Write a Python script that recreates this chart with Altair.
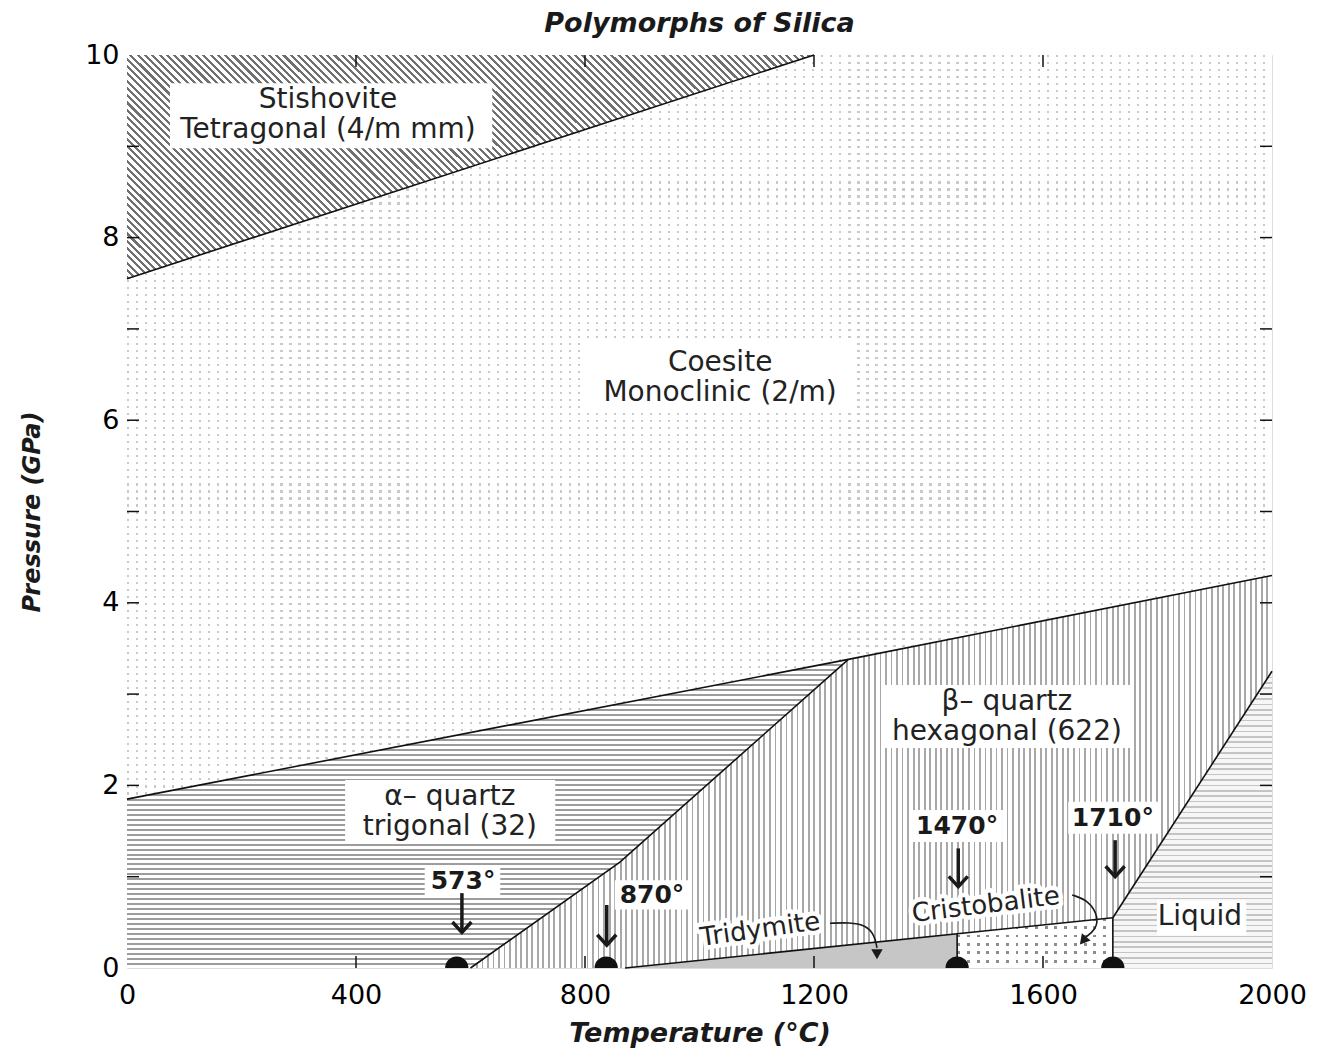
import altair as alt
import pandas as pd

W, H = 1145, 913
FONT = "DejaVu Sans"

# ---------------- data ----------------
# phase boundaries (T in degC, P in GPa)
stish_T = [0, 1200]
stish_P = [7.55, 10.0]
coes_T = [0, 1260, 2000]
coes_P = [1.85, 3.38, 4.30]
ab_T = [600, 861, 1260]
ab_P = [0.0, 1.16, 3.38]
trid_T = [870, 1722]
trid_P = [0.0, 0.55]
liq_T = [1722, 2000]
liq_P = [0.55, 3.25]
vert_T = [1450, 1722]
vert_P = [0.374, 0.55]

# phase regions: T, lower P, upper P
coesite_reg = dict(T=[0, 2000], P=[0, 0], P2=[10, 10])
stish_reg = dict(T=[0, 1200], P=[7.55, 10.0], P2=[10.0, 10.0])
beta_reg = dict(T=[600, 1260, 2000], P=[0, 0, 0], P2=[2.579, 3.38, 4.30])
alpha_reg = dict(T=[0, 600, 861, 1260], P=[0, 0, 1.16, 3.38], P2=[1.85, 2.579, 2.895, 3.38])
liquid_reg = dict(T=[1722, 2000], P=[0, 0], P2=[0.55, 3.25])
trid_reg = dict(T=[870, 1450], P=[0, 0], P2=[0.0, 0.374])
crist_reg = dict(T=[1450, 1722], P=[0, 0], P2=[0.374, 0.55])

# transition points on the T axis
dot_T = [576, 837, 1450, 1722]

# region labels (two-line blocks, position of the first line)
lab_text = [["Stishovite", "Tetragonal (4/m mm)"],
            ["Coesite", "Monoclinic (2/m)"],
            ["\u03b1\u2013 quartz", "trigonal (32)"],
            ["\u03b2\u2013 quartz", "hexagonal (622)"],
            ["Liquid"]]
lab_T = [351, 1036, 564, 1537, 1874]
lab_P = [9.51, 6.63, 1.87, 2.91, 0.56]

# white label boxes
box_T1 = [75, 800, 381, 1319, 1799, 520, 852, 1368, 1644]
box_T2 = [638, 1272, 748, 1755, 1955, 652, 983, 1530, 1804]
box_P1 = [8.98, 6.09, 1.37, 2.41, 0.36, 0.79, 0.64, 1.38, 1.47]
box_P2 = [9.69, 6.85, 2.06, 3.10, 0.74, 1.12, 0.96, 1.73, 1.82]

# temperature labels and straight arrows
temp_text = ["573\u00b0", "870\u00b0", "1470\u00b0", "1710\u00b0"]
temp_T = [587, 917, 1450, 1722]
temp_P = [0.95, 0.80, 1.56, 1.64]
arr_T = [585, 838, 1452, 1726]
arr_top = [0.82, 0.69, 1.31, 1.40]
arr_tip = [0.39, 0.25, 0.89, 1.00]

# rotated labels
rot_text = ["Tridymite", "Cristobalite"]
rot_T = [1106, 1500]
rot_P = [0.42, 0.69]
rot_angle = [352, 353]

# curved arrows
trid_arrow_T = [1228, 1262, 1290, 1306, 1310]
trid_arrow_P = [0.49, 0.50, 0.47, 0.36, 0.22]
crist_arrow_T = [1651, 1680, 1697, 1692, 1675]
crist_arrow_P = [0.80, 0.74, 0.56, 0.42, 0.34]
head_T = [1310, 1670]
head_P = [0.15, 0.30]
head_angle = [0, 40]

# axis ticks
x_labels = [0, 400, 800, 1200, 1600, 2000]
y_labels = [0, 2, 4, 6, 8, 10]
x_ticks = [400, 800, 1200, 1600]
y_ticks = [1, 2, 3, 4, 5, 6, 7, 8, 9]

# ---------------- styles ----------------
CLEAR = "rgba(255,255,255,0)"


def stripes(n, frac, dark, light, x1, y1, x2, y2):
    stops = []
    for i in range(n):
        a = i / n
        b = (i + frac) / n
        c = (i + 1) / n
        stops += [alt.GradientStop(offset=a, color=dark),
                  alt.GradientStop(offset=b, color=dark),
                  alt.GradientStop(offset=b, color=light),
                  alt.GradientStop(offset=c, color=light)]
    return alt.LinearGradient(gradient="linear", stops=stops, x1=x1, y1=y1, x2=x2, y2=y2)


xs = alt.Scale(domain=[0, 2000], nice=False, zero=False)
ys = alt.Scale(domain=[0, 10], nice=False, zero=False)
xaxis = alt.Axis(values=x_labels, format="d", tickSize=0, domain=False, grid=False,
                 labelFont=FONT, labelFontSize=27, labelColor="black", labelPadding=14,
                 labelFlush=False, title="Temperature (\u00b0C)", titleFont=FONT,
                 titleFontSize=27, titleFontWeight="bold", titleFontStyle="italic",
                 titleColor="#1a1a1a", titlePadding=12)
yaxis = alt.Axis(values=y_labels, format="d", tickSize=0, domain=False, grid=False,
                 labelFont=FONT, labelFontSize=27, labelColor="black", labelPadding=8,
                 labelFlush=False, title="Pressure (GPa)", titleFont=FONT,
                 titleFontSize=24, titleFontWeight="bold", titleFontStyle="italic",
                 titleColor="#1a1a1a", titlePadding=40)


def X(f="T"):
    return alt.X(f"{f}:Q", scale=xs, axis=xaxis)


def Y(f="P"):
    return alt.Y(f"{f}:Q", scale=ys, axis=yaxis)


def region(d, fill):
    df = pd.DataFrame(d)
    return alt.Chart(df).mark_area(fill=fill, opacity=1).encode(x=X(), y=Y(), y2="P2")


def dotted(d, nx, fx, ny, fy, color):
    # vertical gray/white stripes masked by horizontal clear/white stripes -> dots
    return [region(d, stripes(nx, fx, color, "#ffffff", 0, 0, 1, 0)),
            region(d, stripes(ny, fy, CLEAR, "#ffffff", 0, 0, 0, 1))]


def bline(T, P, width=1.6):
    df = pd.DataFrame({"T": T, "P": P})
    return alt.Chart(df).mark_line(color="#111", strokeWidth=width).encode(x=X(), y=Y())


layers = []
# coesite: fine dots
layers += dotted(coesite_reg, 127, 0.25, 130, 0.3, "#c9c9c9")
# stishovite diagonal hatching
k = 224 / 687
s = (1 + k) / (1 + k * k)
layers.append(region(stish_reg, stripes(125, 0.42, "#707070", "#ffffff", 0, 1, s, 1 - s * k)))
# beta quartz vertical lines
layers.append(region(beta_reg, stripes(145, 0.33, "#a8a8a8", "#ffffff", 0, 0, 1, 0)))
# alpha quartz horizontal lines
layers.append(region(alpha_reg, stripes(62, 0.4, "#9c9c9c", "#ffffff", 0, 0, 0, 1)))
# liquid wavy texture
layers.append(region(liquid_reg, stripes(55, 0.3, "#c4c4c4", "#f6f6f6", 0, 0, 0, 1)))
# tridymite
layers.append(region(trid_reg, "#c6c6c6"))
# cristobalite: coarse dots
layers += dotted(crist_reg, 16, 0.3, 6, 0.35, "#8c8c8c")

# boundaries
layers.append(bline(stish_T, stish_P))
layers.append(bline(coes_T, coes_P))
layers.append(bline(ab_T, ab_P))
layers.append(bline(trid_T, trid_P))
layers.append(bline(liq_T, liq_P))
layers.append(alt.Chart(pd.DataFrame({"T": vert_T, "P2": vert_P, "P": [0, 0]})).mark_rule(
    color="#111", strokeWidth=1.6).encode(x=X(), y=Y(), y2="P2"))

# white boxes
layers.append(alt.Chart(pd.DataFrame({"T": box_T1, "T2": box_T2, "P": box_P1, "P2": box_P2}))
              .mark_rect(fill="white").encode(x=X(), x2="T2", y=Y(), y2="P2"))

# region labels
layers.append(alt.Chart(pd.DataFrame({"T": lab_T, "P": lab_P, "t": lab_text})).mark_text(
    font=FONT, fontSize=28, lineHeight=30, color="#222", align="center",
    baseline="middle").encode(x=X(), y=Y(), text="t"))

# temperature labels
layers.append(alt.Chart(pd.DataFrame({"T": temp_T, "P": temp_P, "t": temp_text})).mark_text(
    font=FONT, fontSize=25, fontWeight="bold", color="#1a1a1a", align="center",
    baseline="middle").encode(x=X(), y=Y(), text="t:N"))

# straight arrows
arr_df = pd.DataFrame({"T": arr_T, "P": arr_top, "P2": arr_tip})
layers.append(alt.Chart(arr_df).mark_rule(color="#1a1a1a", strokeWidth=3.5).encode(
    x=X(), y=Y(), y2="P2"))
layers.append(alt.Chart(pd.DataFrame({"T": arr_T, "P": arr_tip})).mark_point(
    shape="M -1 -1.1 L 0 0 L 1 -1.1", filled=False, size=360, strokeWidth=3.5,
    color="#1a1a1a", opacity=1).encode(x=X(), y=Y()))

# rotated labels with white halo
rot_df = pd.DataFrame({"T": rot_T, "P": rot_P, "t": rot_text, "a": rot_angle})
layers.append(alt.Chart(rot_df).mark_text(
    font=FONT, fontSize=26, color="white", stroke="white", strokeWidth=9,
    strokeJoin="round", align="center", baseline="middle").encode(
    x=X(), y=Y(), text="t:N", angle=alt.Angle("a:Q", scale=None)))
layers.append(alt.Chart(rot_df).mark_text(
    font=FONT, fontSize=26, color="#222", align="center", baseline="middle").encode(
    x=X(), y=Y(), text="t:N", angle=alt.Angle("a:Q", scale=None)))

# curved arrows
for cT, cP in [(trid_arrow_T, trid_arrow_P), (crist_arrow_T, crist_arrow_P)]:
    cdf = pd.DataFrame({"T": cT, "P": cP, "i": list(range(len(cT)))})
    layers.append(alt.Chart(cdf).mark_line(color="#1a1a1a", strokeWidth=1.6,
                                           interpolate="basis").encode(
        x=X(), y=Y(), order="i:Q"))
layers.append(alt.Chart(pd.DataFrame({"T": head_T, "P": head_P, "a": head_angle})).mark_point(
    shape="triangle-down", filled=True, size=130, color="#1a1a1a", opacity=1).encode(
    x=X(), y=Y(), angle=alt.Angle("a:Q", scale=None)))

# transition dots
layers.append(alt.Chart(pd.DataFrame({"T": dot_T, "P": [0] * len(dot_T)})).mark_circle(
    size=540, color="#111", opacity=1, clip=True).encode(x=X(), y=Y()))

# inward ticks
xt = pd.DataFrame({"T": x_ticks})
yt = pd.DataFrame({"P": y_ticks})
layers.append(alt.Chart(xt).mark_rule(color="#111", strokeWidth=1.5).encode(
    x=X(), y=alt.value(H), y2=alt.value(H - 12)))
layers.append(alt.Chart(xt).mark_rule(color="#111", strokeWidth=1.5).encode(
    x=X(), y=alt.value(0), y2=alt.value(12)))
layers.append(alt.Chart(yt).mark_rule(color="#111", strokeWidth=1.5).encode(
    y=Y(), x=alt.value(0), x2=alt.value(12)))
layers.append(alt.Chart(yt).mark_rule(color="#111", strokeWidth=1.5).encode(
    y=Y(), x=alt.value(W - 12), x2=alt.value(W)))

chart = alt.layer(*layers).properties(
    width=W, height=H,
    title=alt.TitleParams("Polymorphs of Silica", font=FONT, fontSize=27, fontWeight="bold",
                          fontStyle="italic", color="#1a1a1a", anchor="middle", offset=3),
    autosize=alt.AutoSizeParams(type="none"),
    padding={"left": 119, "top": 47, "right": 36, "bottom": 82},
).configure_view(stroke="#111", strokeWidth=1.6).configure(background="white")

chart.save("out.html", embed_options={"renderer": "svg", "actions": False})
